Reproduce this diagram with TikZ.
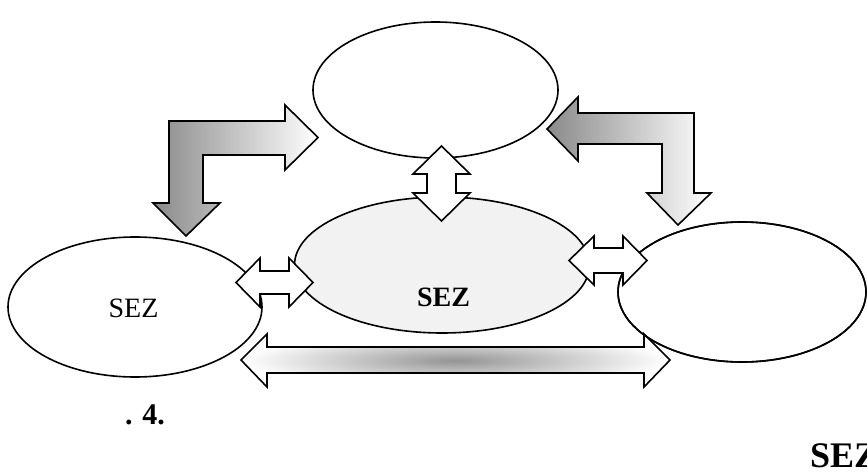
\documentclass[tikz,border=0pt]{standalone}
\usepackage{fontspec}
\setmainfont{Liberation Serif}
\usetikzlibrary{shapes.geometric}
\tikzset{
  bubble/.style={ellipse, draw, line width=1.6pt, inner sep=0pt, fill=white},
  blockarrow/.style={draw, line width=1.6pt, line join=miter},
  bigtext/.style={font=\fontsize{28}{30}\selectfont, anchor=base}
}
\begin{document}
\begin{tikzpicture}[x=1pt,y=-1pt]
  \clip (0,0) rectangle (867,476);
  \fill[white] (0,0) rectangle (867,476);

  % ellipses
  \node[bubble, minimum width=245pt, minimum height=136pt] (top) at (435.5,90) {};
  \node[bubble, minimum width=295pt, minimum height=136pt, fill=black!5] (mid) at (442,265) {};
  \node[bubble, minimum width=254pt, minimum height=140pt] (lft) at (135,307) {};
  \node[bubble, minimum width=248pt, minimum height=140pt] (rgt) at (742,292) {};

  % long arrow at the bottom
  \path[blockarrow, inner color=black!42, outer color=white]
    (241,360) -- (267,334) -- (267,347) -- (644,347) -- (644,334) -- (670,360)
    -- (644,387) -- (644,373) -- (267,373) -- (267,387) -- cycle;
  \draw[line width=1.6pt] (rgt.center) ellipse [x radius=124pt, y radius=70pt];

  % bent arrows
  \path[blockarrow, left color=black!46, right color=white]
    (169,121) -- (285,121) -- (285,105) -- (318,137.5) -- (285,170) -- (285,155)
    -- (203,155) -- (203,203) -- (220,203) -- (186,236) -- (153,203) -- (169,203) -- cycle;
  \path[blockarrow, left color=black!46, right color=white]
    (694,113) -- (578,113) -- (578,97) -- (547,129) -- (578,161) -- (578,144)
    -- (662,144) -- (662,193) -- (647,193) -- (678,225) -- (711,193) -- (694,193) -- cycle;

  % double arrows
  \draw[blockarrow, fill=white]
    (441.5,146) -- (470,174) -- (456,174) -- (456,193) -- (470,193) -- (441.5,221)
    -- (413,193) -- (427,193) -- (427,174) -- (413,174) -- cycle;
  \draw[blockarrow, fill=white]
    (236,282.5) -- (260,258) -- (260,271) -- (289,271) -- (289,258) -- (313,282.5)
    -- (289,307) -- (289,294) -- (260,294) -- (260,307) -- cycle;
  \draw[blockarrow, fill=white]
    (569,260.5) -- (594,236) -- (594,248) -- (623,248) -- (623,236) -- (647,260.5)
    -- (623,285) -- (623,273) -- (594,273) -- (594,285) -- cycle;

  % texts
  \node[bigtext] (lft-lbl) at (133.5,317) {SEZ};
  \node[bigtext] (mid-lbl) at (443.5,306) {\textbf{SEZ}};
  \node[font=\fontsize{30}{33}\selectfont\bfseries, anchor=base] (fig) at (145,424) {. 4.};
  \node[font=\fontsize{36}{40}\selectfont\bfseries, anchor=base west, inner sep=0pt] (corner) at (810,467) {SEZ};
\end{tikzpicture}
\end{document}
